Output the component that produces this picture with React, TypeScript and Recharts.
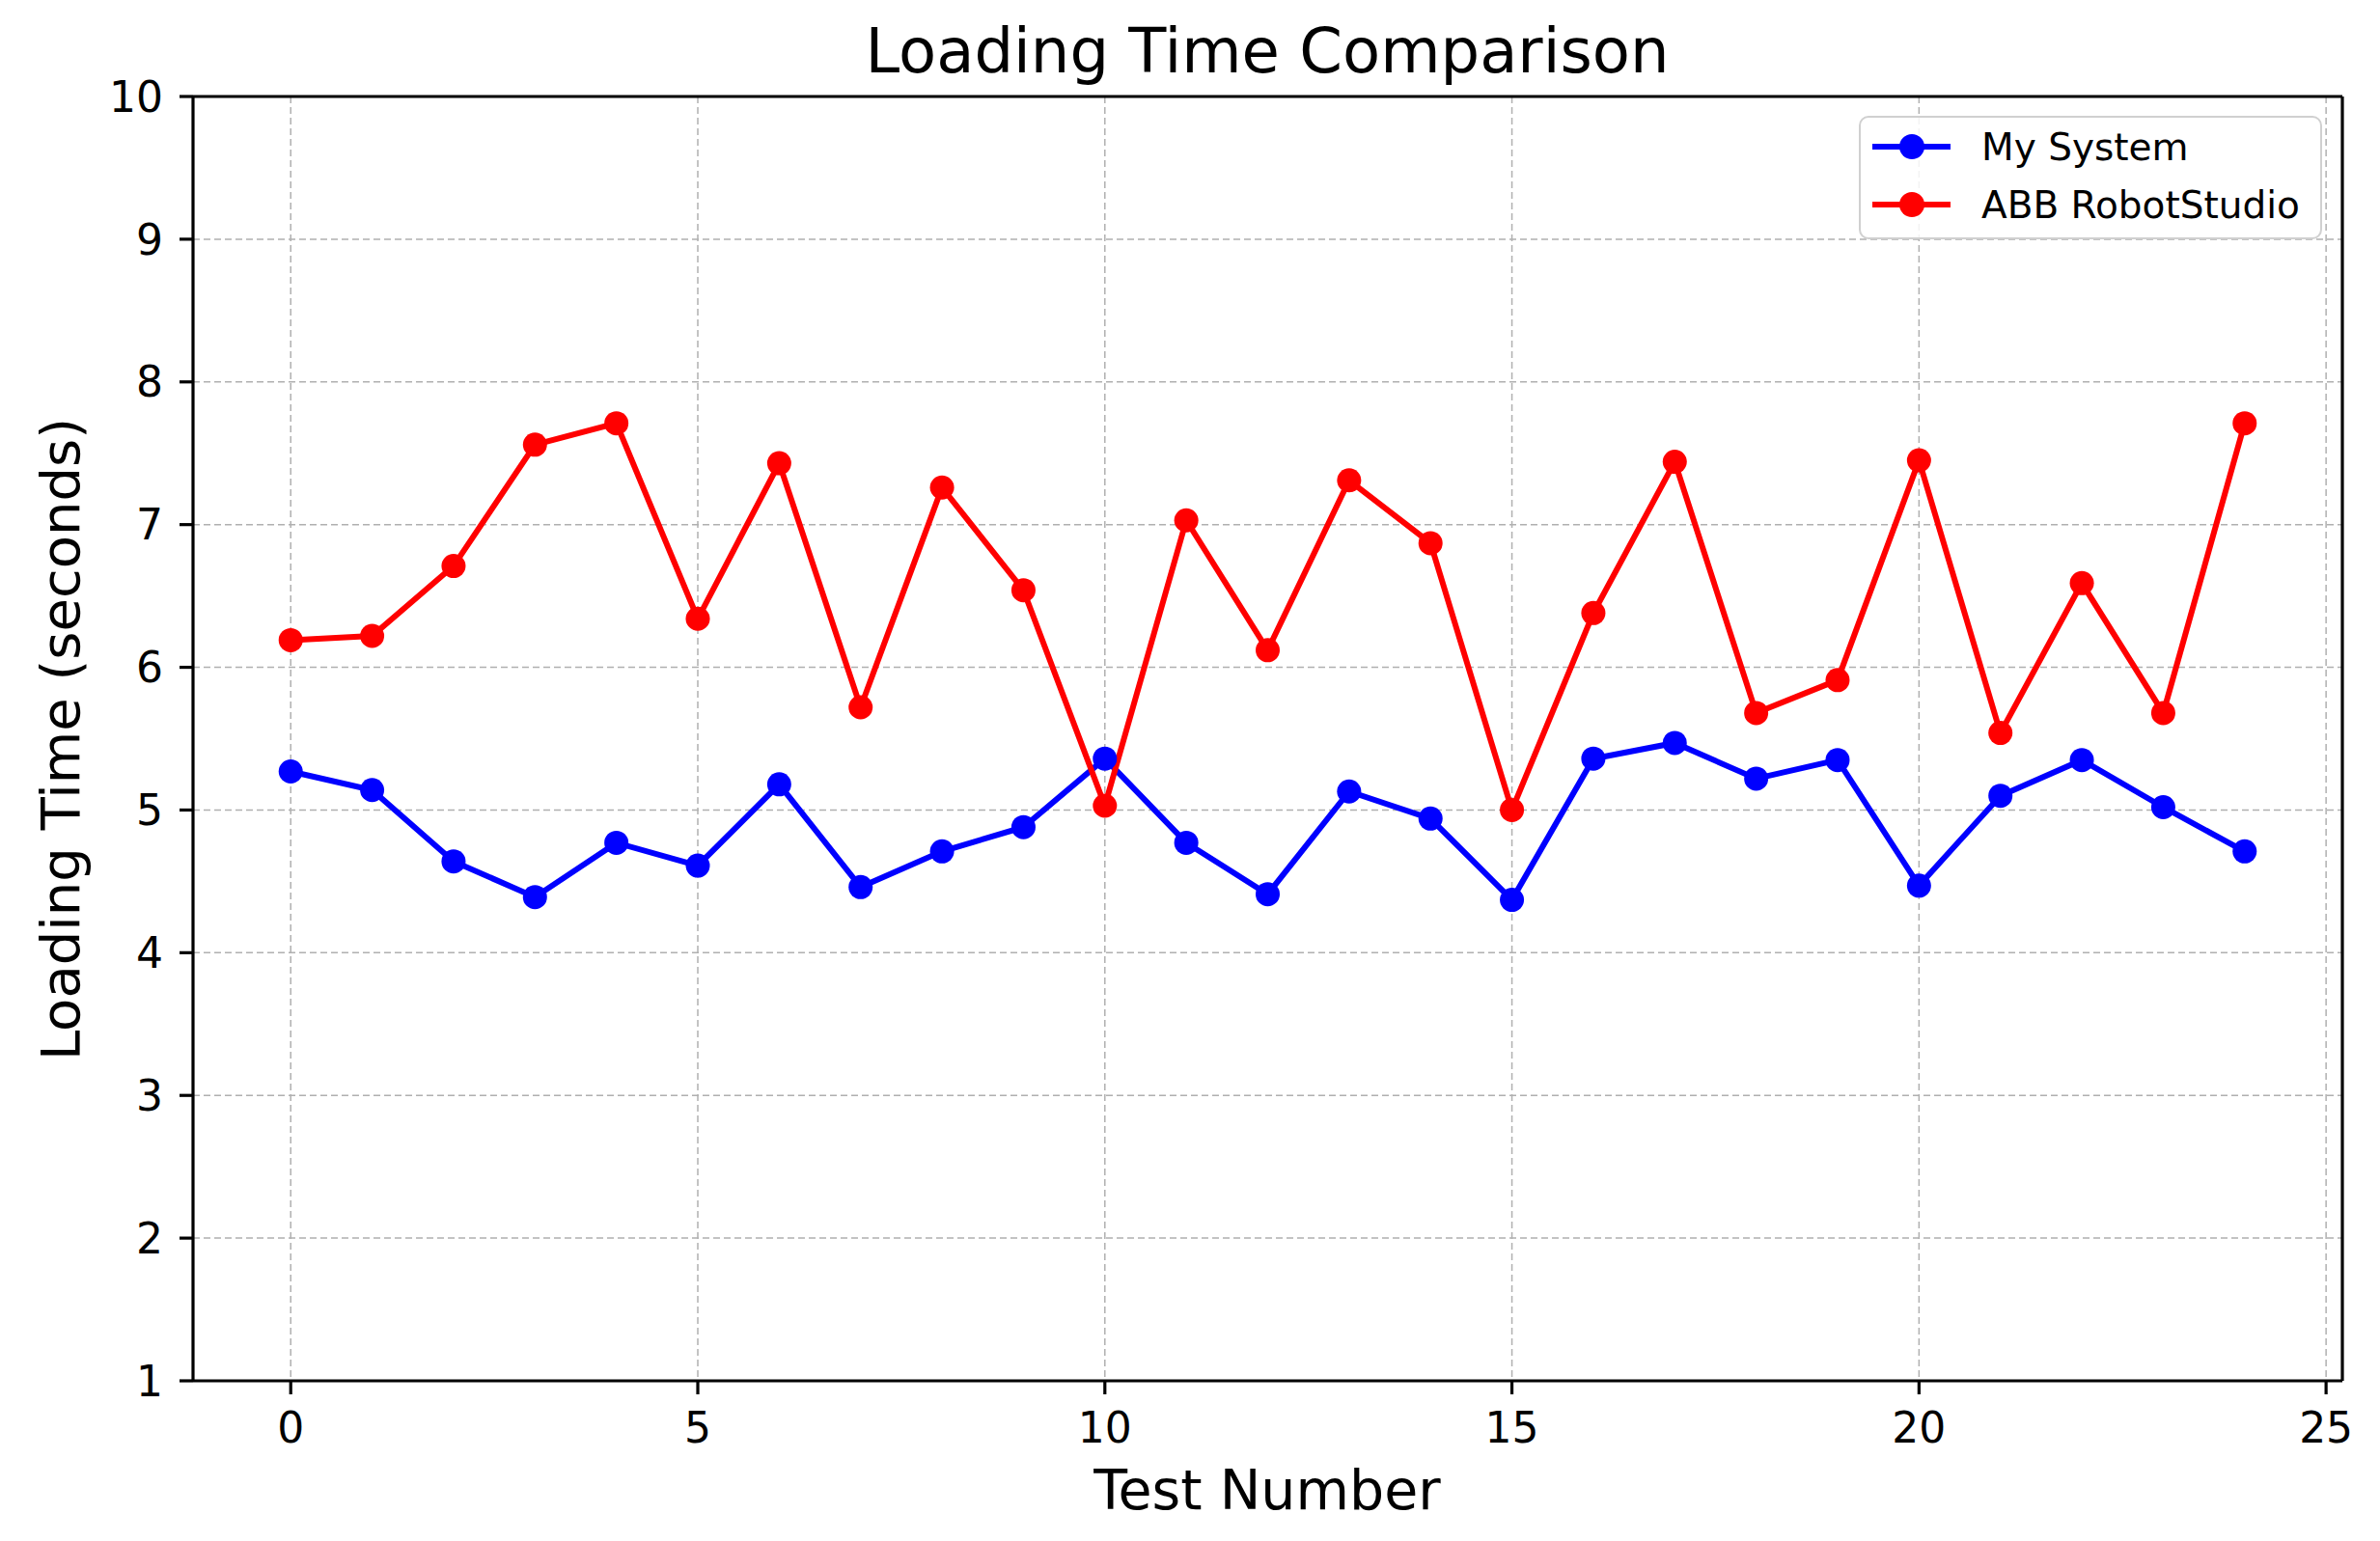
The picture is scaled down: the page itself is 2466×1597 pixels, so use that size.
import React from 'react'
import { LineChart, Line, XAxis, YAxis, CartesianGrid, Legend, ReferenceLine } from 'recharts'

const testNumbers = [0, 1, 2, 3, 4, 5, 6, 7, 8, 9, 10, 11, 12, 13, 14, 15, 16, 17, 18, 19, 20, 21, 22, 23, 24]
const mySystem = [5.27, 5.14, 4.64, 4.39, 4.77, 4.61, 5.18, 4.46, 4.71, 4.88, 5.36, 4.77, 4.41, 5.13, 4.94, 4.37, 5.36, 5.47, 5.22, 5.35, 4.47, 5.10, 5.35, 5.02, 4.71]
const abbRobotStudio = [6.19, 6.22, 6.71, 7.56, 7.71, 6.34, 7.43, 5.72, 7.26, 6.54, 5.03, 7.03, 6.12, 7.31, 6.87, 5.00, 6.38, 7.44, 5.68, 5.91, 7.45, 5.54, 6.59, 5.68, 7.71]
const xTicks = [0, 5, 10, 15, 20, 25]
const yTicks = [1, 2, 3, 4, 5, 6, 7, 8, 9, 10]
const xDomain = [-1.2, 25.2]
const yDomain = [1, 10]
const seriesNames = ['My System', 'ABB RobotStudio']
const seriesColors = ['#0000ff', '#ff0000']

const data = testNumbers.map((t, i) => ({ test: t, mine: mySystem[i], abb: abbRobotStudio[i] }))

const FONT = '"DejaVu Sans", sans-serif'
const W = 2466
const H = 1597

const axisStroke = { stroke: '#000', strokeWidth: 3.2 }

function LegendBox() {
  return (
    <div
      style={{
        width: 480,
        height: 128,
        boxSizing: 'border-box',
        border: '2px solid #d0d0d0',
        borderRadius: 10,
        background: 'rgba(255,255,255,0.85)',
      }}
    >
      <svg width={476} height={124} style={{ display: 'block' }}>
        {seriesNames.map((name, i) => {
          const cy = 30 + i * 60
          return (
            <g key={name}>
              <line x1={12} x2={93} y1={cy} y2={cy} stroke={seriesColors[i]} strokeWidth={6} />
              <circle cx={53} cy={cy} r={13} fill={seriesColors[i]} />
              <text x={125} y={cy + 14} fontFamily={FONT} fontSize={39} fill="#000">
                {name}
              </text>
            </g>
          )
        })}
      </svg>
    </div>
  )
}

export default function App() {
  return (
    <div style={{ position: 'relative', width: W, height: H, fontFamily: FONT }}>
      <style>{'body{margin:0;}'}</style>
      <LineChart width={W} height={H} data={data} margin={{ top: 100, right: 39, left: 0, bottom: 0 }}>
        <CartesianGrid stroke="#b0b0b0" strokeWidth={1.5} strokeDasharray="7 4" />
        <XAxis
          dataKey="test"
          type="number"
          domain={xDomain}
          ticks={xTicks}
          allowDataOverflow
          height={166}
          axisLine={axisStroke}
          tickLine={axisStroke}
          tickSize={14}
          tickMargin={19}
          tick={{ fill: '#000', fontSize: 44, fontFamily: FONT }}
        />
        <YAxis
          type="number"
          domain={yDomain}
          ticks={yTicks}
          allowDataOverflow
          width={200}
          axisLine={axisStroke}
          tickLine={axisStroke}
          tickSize={14}
          tickMargin={17}
          tick={{ fill: '#000', fontSize: 44, fontFamily: FONT }}
        />
        {/* top and right spines */}
        <ReferenceLine y={yDomain[1]} stroke="#000" strokeWidth={3.2} />
        <ReferenceLine x={xDomain[1]} stroke="#000" strokeWidth={3.2} />
        <Legend
          content={() => <LegendBox />}
          layout="vertical"
          verticalAlign="middle"
          align="center"
          wrapperStyle={{ position: 'absolute', left: 1926, top: 120, width: 480, height: 128 }}
        />
        <Line
          type="linear"
          dataKey="mine"
          name={seriesNames[0]}
          stroke={seriesColors[0]}
          strokeWidth={6}
          dot={{ r: 12.5, fill: seriesColors[0], stroke: 'none' }}
          activeDot={false}
          isAnimationActive={false}
        />
        <Line
          type="linear"
          dataKey="abb"
          name={seriesNames[1]}
          stroke={seriesColors[1]}
          strokeWidth={6}
          dot={{ r: 12.5, fill: seriesColors[1], stroke: 'none' }}
          activeDot={false}
          isAnimationActive={false}
        />
      </LineChart>
      <svg
        width={W}
        height={H}
        style={{ position: 'absolute', left: 0, top: 0, pointerEvents: 'none' }}
      >
        <text x={1313} y={75} textAnchor="middle" fontFamily={FONT} fontSize={64} fill="#000">
          Loading Time Comparison
        </text>
        <text x={1313} y={1564} textAnchor="middle" fontFamily={FONT} fontSize={57} fill="#000">
          Test Number
        </text>
        <text
          x={0}
          y={0}
          transform="translate(82,766) rotate(-90)"
          textAnchor="middle"
          fontFamily={FONT}
          fontSize={56}
          fill="#000"
        >
          Loading Time (seconds)
        </text>
      </svg>
    </div>
  )
}
